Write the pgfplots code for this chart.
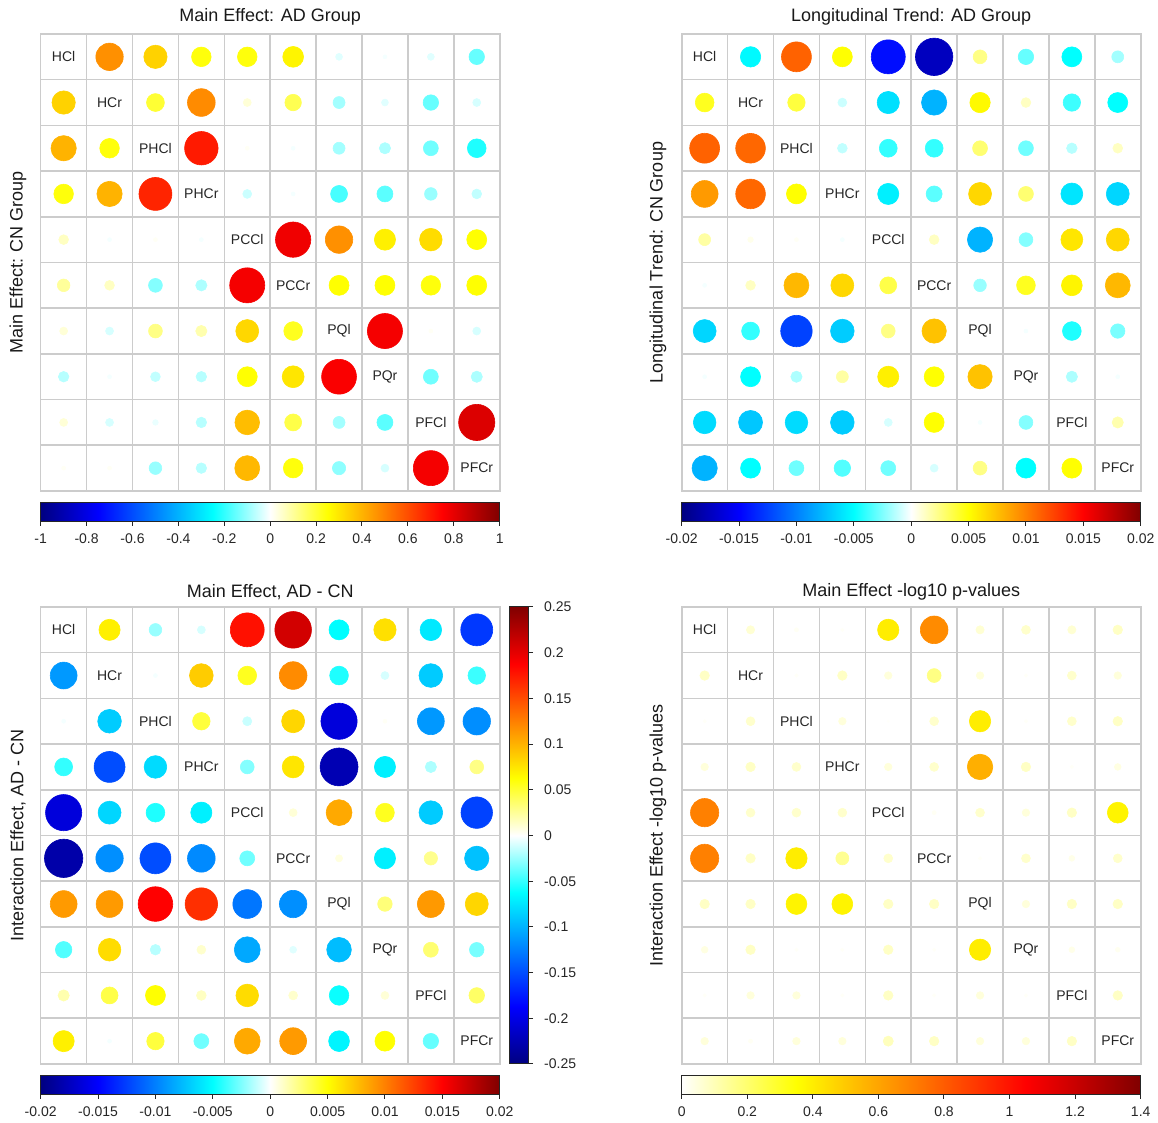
\documentclass[border=0pt]{standalone}
\usepackage{fontspec}
\setmainfont{Liberation Sans}
\usepackage{pgfplots}
\usepackage{pgfplotstable}
\pgfplotsset{compat=1.18}
\pgfplotsset{
 colormap={jw}{rgb255=(0,0,128) rgb255=(0,0,255) rgb255=(0,128,255) rgb255=(0,255,255) rgb255=(255,255,255) rgb255=(255,255,0) rgb255=(255,128,0) rgb255=(255,0,0) rgb255=(128,0,0)},
 colormap={hw}{rgb255=(255,255,255) rgb255=(255,255,0) rgb255=(255,128,0) rgb255=(255,0,0) rgb255=(128,0,0)},
 cmat/.style={
   scale only axis, width=229.5pt, height=228.5pt,
   xmin=0.5, xmax=10.5, ymin=0.5, ymax=10.5, y dir=reverse,
   xtick={0.5,1.5,...,10.5}, ytick={0.5,1.5,...,10.5},
   xticklabels={}, yticklabels={}, major tick length=0pt,
   xmajorgrids, ymajorgrids,
   grid style={draw=black!20, line width=0.8pt},
   axis line style={draw=black!20, line width=0.8pt},
   title style={font=\fontsize{9}{10}\selectfont, anchor=center, yshift=-6pt, text=black!90},
   ylabel style={font=\fontsize{9}{10}\selectfont, anchor=center, text=black!90},
   clip=false,
 },
 circ/.style={scatter, only marks, mark=*, point meta=explicit,
   scatter/use mapped color={draw=mapped color, fill=mapped color},
   mark options={line width=0.3pt},
   visualization depends on={10*sqrt(abs(\thisrow{v})/#1) \as \rad},
   scatter/@pre marker code/.append style={/tikz/mark size=\rad pt}},
 diaglab/.style={draw=none, mark=none, nodes near coords, point meta=explicit symbolic,
   nodes near coords style={anchor=center, font=\fontsize{7}{8}\selectfont, text=black!85}},
 cbcommon/.style={y dir=normal, xmajorgrids=false, ymajorgrids=false, title={}, ylabel={}, xlabel={},
   scaled ticks=false,
   major tick length=2.2pt, tick style={draw=black!85, line width=0.5pt},
   axis line style={draw=black!85, line width=0.5pt},
   ticklabel style={font=\fontsize{7}{8}\selectfont, text=black!85}},
 hbar/.style={cbcommon, scale only axis, width=229.5pt, height=9.15pt,
   at={(parent axis.south west)}, anchor=north west, yshift=-6pt,
   ytick=\empty, xtick align=outside, xtick pos=left, xticklabel pos=left,
   xticklabel style={yshift=-0.5pt}},
 vbar/.style={cbcommon, scale only axis, width=9.5pt, height=228.5pt,
   at={(parent axis.north east)}, anchor=north west, xshift=5pt,
   xtick=\empty, ytick align=outside, ytick pos=right, yticklabel pos=right,
   yticklabel style={xshift=2pt}},
}
\pgfplotstableread{
c r lab
1 1 HCl
2 2 HCr
3 3 PHCl
4 4 PHCr
5 5 PCCl
6 6 PCCr
7 7 PQl
8 8 PQr
9 9 PFCl
10 10 PFCr
}\diagtab
\pgfplotstableread{
r c v
1 2 0.47
1 3 0.34
1 4 0.24
1 5 0.24
1 6 0.27
1 7 -0.03
1 8 -0.01
1 9 -0.03
1 10 -0.15
2 1 0.34
2 3 0.2
2 4 0.48
2 5 0.04
2 6 0.17
2 7 -0.09
2 8 -0.03
2 9 -0.15
2 10 -0.04
3 1 0.4
3 2 0.24
3 4 0.7
3 5 0.01
3 6 -0.01
3 7 -0.09
3 8 -0.08
3 9 -0.14
3 10 -0.22
4 1 0.24
4 2 0.4
4 3 0.68
4 5 -0.05
4 6 -0.01
4 7 -0.18
4 8 -0.16
4 9 -0.1
4 10 -0.06
5 1 0.06
5 2 -0.01
5 3 0.01
5 4 -0.01
5 6 0.78
5 7 0.47
5 8 0.28
5 9 0.32
5 10 0.25
6 1 0.1
6 2 0.06
6 3 -0.12
6 4 -0.08
6 5 0.77
6 7 0.25
6 8 0.25
6 9 0.24
6 10 0.25
7 1 0.04
7 2 -0.04
7 3 0.12
7 4 0.08
7 5 0.33
7 6 0.22
7 8 0.77
7 9 0.01
7 10 -0.04
8 1 -0.07
8 2 -0.01
8 3 -0.06
8 4 -0.07
8 5 0.25
8 6 0.3
8 7 0.76
8 9 -0.14
8 10 -0.08
9 1 0.04
9 2 -0.04
9 3 -0.02
9 4 -0.07
9 5 0.38
9 6 0.18
9 7 -0.09
9 8 -0.16
9 10 0.82
10 1 0.01
10 2 0.01
10 3 -0.1
10 4 -0.07
10 5 0.39
10 6 0.24
10 7 -0.11
10 8 -0.04
10 9 0.77
}\tabA
\pgfplotstableread{
r c v
1 2 -0.0052
1 3 0.0112
1 4 0.005
1 5 -0.0145
1 6 -0.0175
1 7 0.0024
1 8 -0.003
1 9 -0.005
1 10 -0.0018
2 1 0.0044
2 3 0.0038
2 4 -0.001
2 5 -0.0062
2 6 -0.008
2 7 0.0052
2 8 0.0012
2 9 -0.0038
2 10 -0.005
3 1 0.0112
3 2 0.011
3 4 -0.0012
3 5 -0.004
3 6 -0.004
3 7 0.0028
3 8 -0.0028
3 9 -0.0014
3 10 0.0012
4 1 0.009
4 2 0.011
4 3 0.005
4 5 -0.0056
4 6 -0.0032
4 7 0.0066
4 8 0.0028
4 9 -0.006
4 10 -0.0066
5 1 0.0018
5 2 0.0004
5 3 0.0002
5 4 -0.0002
5 6 0.0012
5 7 -0.008
5 8 -0.0024
5 9 0.006
5 10 0.0066
6 1 -0.0002
6 2 0.0012
6 3 0.0078
6 4 0.0066
6 5 0.0036
6 7 -0.002
6 8 0.0044
6 9 0.0054
6 10 0.0078
7 1 -0.0066
7 2 -0.004
7 3 -0.0124
7 4 -0.007
7 5 0.0024
7 6 0.0074
7 8 -0.0002
7 9 -0.0044
7 10 -0.0026
8 1 -0.0002
8 2 -0.005
8 3 -0.0016
8 4 0.0018
8 5 0.0056
8 6 0.005
8 7 0.0074
8 9 -0.0016
8 10 -0.0002
9 1 -0.0064
9 2 -0.0072
9 3 -0.0064
9 4 -0.007
9 5 -0.0008
9 6 0.005
9 7 -0.0002
9 8 -0.0024
9 10 0.0016
10 1 -0.008
10 2 -0.005
10 3 -0.0028
10 4 -0.0034
10 5 -0.0028
10 6 -0.0008
10 7 0.0024
10 8 -0.005
10 9 0.005
}\tabB
\pgfplotstableread{
r c v
1 2 0.07
1 3 -0.025
1 4 -0.01
1 5 0.18
1 6 0.21
1 7 -0.063
1 8 0.078
1 9 -0.073
1 10 -0.16
2 3 -0.0025
2 4 0.088
2 5 0.055
2 6 0.12
2 7 -0.055
2 8 -0.01
2 9 -0.088
2 10 -0.048
3 4 0.048
3 5 -0.013
3 6 0.083
3 7 -0.205
3 8 0.0025
3 9 -0.113
3 10 -0.118
4 5 -0.03
4 6 0.075
4 7 -0.225
4 8 -0.07
4 9 -0.02
4 10 0.03
5 6 0.01
5 7 0.105
5 8 0.055
5 9 -0.088
5 10 -0.155
6 7 0.008
6 8 -0.07
6 9 0.028
6 10 -0.093
7 8 0.033
7 9 0.113
7 10 0.083
8 9 0.035
8 10 -0.033
9 10 0.038
}\tabCu
\pgfplotstableread{
r c v
2 1 -0.009
3 1 -0.0002
3 2 -0.007
4 1 -0.004
4 2 -0.012
4 3 -0.0064
5 1 -0.0164
5 2 -0.0066
5 3 -0.0044
5 4 -0.0056
6 1 -0.0184
6 2 -0.0094
6 3 -0.012
6 4 -0.0096
6 5 -0.0028
7 1 0.009
7 2 0.009
7 3 0.015
7 4 0.0132
7 5 -0.0104
7 6 -0.0094
8 1 -0.0034
8 2 0.0064
8 3 -0.0014
8 4 0.001
8 5 -0.0084
8 6 -0.0006
8 7 -0.0076
9 1 0.0016
9 2 0.0036
9 3 0.005
9 4 0.0012
9 5 0.0064
9 6 0.001
9 7 -0.0048
9 8 0.0008
10 1 0.0056
10 2 -0.0002
10 3 0.0038
10 4 -0.0028
10 5 0.0084
10 6 0.009
10 7 -0.0054
10 8 0.005
10 9 -0.003
}\tabCl
\pgfplotstableread{
r c v
1 2 0.06
1 3 0.015
1 4 0.01
1 5 0.4
1 6 0.67
1 7 0.06
1 8 0.07
1 9 0.06
1 10 0.08
2 1 0.08
2 3 0.01
2 4 0.08
2 5 0.05
2 6 0.17
2 7 0.05
2 8 0.01
2 9 0.07
2 10 0.05
3 1 0.01
3 2 0.07
3 4 0.05
3 5 0.005
3 6 0.07
3 7 0.4
3 8 0.01
3 9 0.07
3 10 0.08
4 1 0.05
4 2 0.08
4 3 0.07
4 5 0.05
4 6 0.07
4 7 0.57
4 8 0.08
4 9 0.01
4 10 0.04
5 1 0.7
5 2 0.07
5 3 0.07
5 4 0.07
5 6 0.015
5 7 0.07
5 8 0.05
5 9 0.08
5 10 0.38
6 1 0.7
6 2 0.08
6 3 0.4
6 4 0.15
6 5 0.07
6 7 0.01
6 8 0.07
6 9 0.03
6 10 0.07
7 1 0.08
7 2 0.08
7 3 0.38
7 4 0.38
7 5 0.08
7 6 0.08
7 8 0.05
7 9 0.08
7 10 0.08
8 1 0.04
8 2 0.08
8 3 0.01
8 4 0.01
8 5 0.08
8 6 0.01
8 7 0.4
8 9 0.03
8 10 0.02
9 1 0.01
9 2 0.05
9 3 0.05
9 4 0.01
9 5 0.08
9 6 0.01
9 7 0.05
9 8 0.01
9 10 0.08
10 1 0.05
10 2 0.015
10 3 0.05
10 4 0.05
10 5 0.09
10 6 0.08
10 7 0.05
10 8 0.05
10 9 0.08
}\tabD
\begin{document}
\begin{tikzpicture}
\path[use as bounding box] (0,0) rectangle (579pt,561.5pt);
% Panel 1
\begin{axis}[cmat, at={(20.35pt,316pt)}, anchor=south west,
  title={Main Effect: AD Group}, ylabel={Main Effect: CN Group},
  title style={at={(axis description cs:0.5,1.0372)}},
  ylabel style={at={(axis description cs:-0.0495,0.5)}},
  colormap name=jw, point meta min=-1, point meta max=1,
  colorbar horizontal, colorbar shift/.style={},
  colorbar style={hbar, xtick={-1,-0.8,-0.6,-0.4,-0.2,0,0.2,0.4,0.6,0.8,1},
    xticklabels={-1,-0.8,-0.6,-0.4,-0.2,0,0.2,0.4,0.6,0.8,1}}]
\addplot[circ=1] table[x=c,y=r,meta=v] \tabA;
\addplot[diaglab] table[x=c,y=r,meta=lab] \diagtab;
\end{axis}
% Panel 2
\begin{axis}[cmat, at={(340.85pt,316pt)}, anchor=south west,
  title={Longitudinal Trend: AD Group}, ylabel={Longitudinal Trend: CN Group},
  title style={at={(axis description cs:0.5,1.0372)}},
  ylabel style={at={(axis description cs:-0.0516,0.5)}},
  colormap name=jw, point meta min=-0.02, point meta max=0.02,
  colorbar horizontal, colorbar shift/.style={},
  colorbar style={hbar, xtick={-0.02,-0.015,-0.01,-0.005,0,0.005,0.01,0.015,0.02},
    xticklabels={-0.02,-0.015,-0.01,-0.005,0,0.005,0.01,0.015,0.02}}]
\addplot[circ=0.02] table[x=c,y=r,meta=v] \tabB;
\addplot[diaglab] table[x=c,y=r,meta=lab] \diagtab;
\end{axis}
% Panel 3 lower triangle (interaction, horizontal bar)
\begin{axis}[cmat, at={(20.35pt,29.5pt)}, anchor=south west,
  xmajorgrids=false, ymajorgrids=false, axis line style={draw=none},
  colormap name=jw, point meta min=-0.02, point meta max=0.02,
  colorbar horizontal, colorbar shift/.style={},
  colorbar style={hbar, xtick={-0.02,-0.015,-0.01,-0.005,0,0.005,0.01,0.015,0.02},
    xticklabels={-0.02,-0.015,-0.01,-0.005,0,0.005,0.01,0.015,0.02}}]
\addplot[circ=0.02] table[x=c,y=r,meta=v] \tabCl;
\end{axis}
% Panel 3 upper triangle (main effect, vertical bar)
\begin{axis}[cmat, at={(20.35pt,29.5pt)}, anchor=south west,
  title={Main Effect, AD - CN}, ylabel={Interaction Effect, AD - CN},
  title style={at={(axis description cs:0.5,1.0328)}},
  ylabel style={at={(axis description cs:-0.0495,0.5)}},
  colormap name=jw, point meta min=-0.25, point meta max=0.25,
  colorbar, colorbar shift/.style={},
  colorbar style={vbar, ytick={-0.25,-0.2,-0.15,-0.1,-0.05,0,0.05,0.1,0.15,0.2,0.25},
    yticklabels={-0.25,-0.2,-0.15,-0.1,-0.05,0,0.05,0.1,0.15,0.2,0.25}}]
\addplot[circ=0.25] table[x=c,y=r,meta=v] \tabCu;
\addplot[diaglab] table[x=c,y=r,meta=lab] \diagtab;
\end{axis}
% Panel 4
\begin{axis}[cmat, at={(340.85pt,29.5pt)}, anchor=south west,
  title={Main Effect -log10 p-values}, ylabel={Interaction Effect -log10 p-values},
  title style={at={(axis description cs:0.5,1.0328)}},
  ylabel style={at={(axis description cs:-0.0516,0.5)}},
  colormap name=hw, point meta min=0, point meta max=1.4,
  colorbar horizontal, colorbar shift/.style={},
  colorbar style={hbar, xtick={0,0.2,0.4,0.6,0.8,1,1.2,1.4},
    xticklabels={0,0.2,0.4,0.6,0.8,1,1.2,1.4}}]
\addplot[circ=1.4] table[x=c,y=r,meta=v] \tabD;
\addplot[diaglab] table[x=c,y=r,meta=lab] \diagtab;
\end{axis}
\end{tikzpicture}
\end{document}
